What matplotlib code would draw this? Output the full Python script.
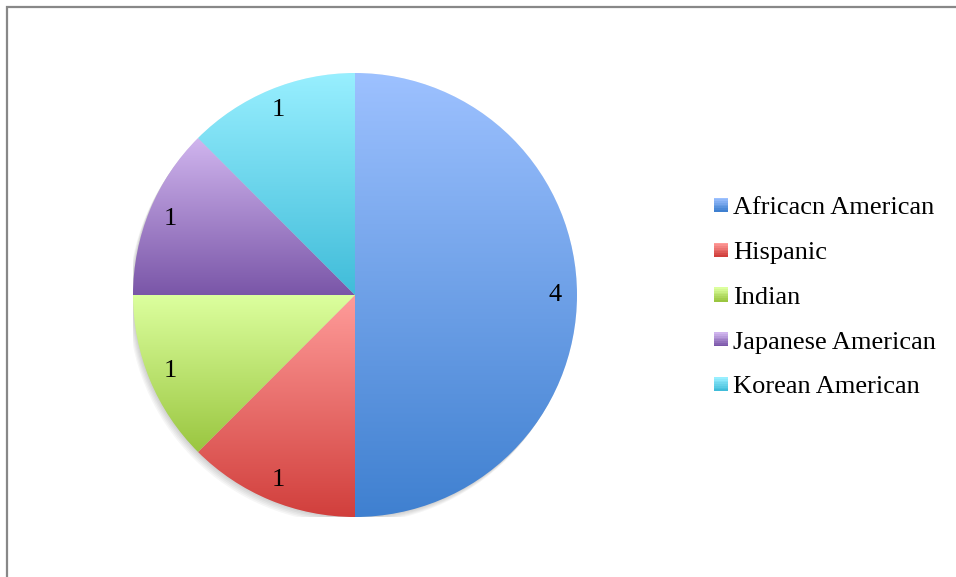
import numpy as np
import matplotlib
matplotlib.use("Agg")
from matplotlib import pyplot as plt
from matplotlib.colors import LinearSegmentedColormap
from matplotlib.patches import Rectangle, Circle
from matplotlib.legend_handler import HandlerBase

categories = ["Africacn American", "Hispanic", "Indian", "Japanese American", "Korean American"]
counts = [4, 1, 1, 1, 1]
# (top colour, bottom colour) of each slice's vertical gradient
top_colors = ["#9dc1ff", "#ff9c9a", "#dcff9e", "#d0b5ee", "#98efff"]
bottom_colors = ["#3f80d0", "#d13f3c", "#9ac640", "#7a56a8", "#40bcd9"]

plt.rcParams["font.family"] = ["Liberation Serif", "DejaVu Serif"]

W, H = 956, 577
fig = plt.figure(figsize=(W / 100, H / 100), dpi=100)

# chart border (right/bottom edges run off the picture)
fig.patches.append(Rectangle((7 / W, -0.1), 1.2, 1 - 7 / H + 0.1, transform=fig.transFigure,
                             fill=False, edgecolor="#888888", linewidth=1.6))

cx, cy, r = 355, H - 295, 222
ax = fig.add_axes([(cx - r) / W, (cy - r) / H, 2 * r / W, 2 * r / H])
ax.axis("off")

# soft shadow below the pie
for i in range(6):
    ax.add_patch(Circle((-0.004 * i, -0.006 * i), 1.0, color="black", alpha=0.035, zorder=0.5,
                        linewidth=0))

total = sum(counts)
wedges, texts, autotexts = ax.pie(
    counts, startangle=90, counterclock=False, radius=1.0,
    autopct=lambda p: f"{p * total / 100:.0f}", pctdistance=0.9,
    wedgeprops=dict(linewidth=0, facecolor="none"),
    textprops=dict(fontsize=19, color="black"),
)
ax.set_xlim(-1, 1)
ax.set_ylim(-1, 1)
ax.set_aspect("auto")

grad = np.linspace(0, 1, 256).reshape(-1, 1)
for w, c_top, c_bot in zip(wedges, top_colors, bottom_colors):
    cmap = LinearSegmentedColormap.from_list("g", [c_top, c_bot])
    bb = w.get_path().get_extents()
    im = ax.imshow(grad, cmap=cmap, extent=(bb.x0, bb.x1, bb.y0, bb.y1), origin="upper",
                   aspect="auto", zorder=1, interpolation="bilinear")
    im.set_clip_path(w)
for t in autotexts:
    t.set_zorder(3)


class GradientSquare(HandlerBase):
    def __init__(self, c_top, c_bot):
        super().__init__()
        self.c_top, self.c_bot = c_top, c_bot

    def create_artists(self, legend, orig_handle, xdescent, ydescent, width, height, fontsize, trans):
        n = 8
        cmap = LinearSegmentedColormap.from_list("g", [self.c_top, self.c_bot])
        size = 14 * 72 / 100
        x0 = width - size
        y0 = (height - size) / 2
        arts = []
        for k in range(n):
            arts.append(Rectangle((x0, y0 + size * (n - 1 - k) / n), size, size / n + 0.05,
                                  facecolor=cmap(k / (n - 1)), edgecolor="none", transform=trans))
        return arts


handles = [Rectangle((0, 0), 1, 1) for _ in categories]
handler_map = {h: GradientSquare(t, b) for h, t, b in zip(handles, top_colors, bottom_colors)}
fig.legend(handles, categories, handler_map=handler_map, loc="center left",
           bbox_to_anchor=(713 / W, (H - 297) / H), frameon=False, fontsize=19,
           handlelength=0.55, handleheight=0.7, handletextpad=0.22, labelspacing=0.81,
           borderpad=0, borderaxespad=0)

fig.savefig("out.png", dpi=100)
